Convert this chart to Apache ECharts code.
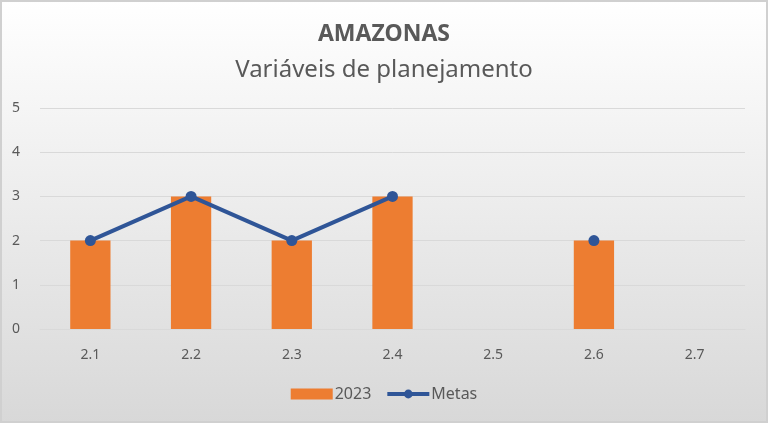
<!DOCTYPE html>
<html><head><meta charset="utf-8">
<script src="https://cdn.jsdelivr.net/npm/echarts@6/dist/echarts.min.js"></script>
<style>html,body{margin:0;padding:0;}#c{width:768px;height:423px;}</style>
</head><body><div id="c"></div>
<script>
const categories = ['2.1','2.2','2.3','2.4','2.5','2.6','2.7'];
const values2023 = [2,3,2,3,null,2,null];
const metas = [2,3,2,3,null,2,null];
const yTicks = [0,1,2,3,4,5];

const chart = echarts.init(document.getElementById('c'));
const font = '"Noto Sans", sans-serif';
chart.setOption({
  backgroundColor: {type:'linear',x:0,y:0,x2:0,y2:1,colorStops:[{offset:0,color:'#ffffff'},{offset:1,color:'#d8d8d8'}]},
  animation:false,
  graphic:[{type:'rect',shape:{x:1,y:1,width:766,height:421},style:{fill:'none',stroke:'#d0d0d0',lineWidth:2},silent:true}],
  title:[
    {text:'AMAZONAS',left:'center',top:18,textStyle:{fontFamily:font,fontSize:23,fontWeight:'bold',color:'#595959'}},
    {text:'Variáveis de planejamento',left:'center',top:53,textStyle:{fontFamily:font,fontSize:24,fontWeight:'normal',color:'#595959'}}
  ],
  legend:{bottom:16,left:'center',itemGap:14,textStyle:{fontFamily:font,fontSize:16,color:'#595959',padding:[0,0,0,-3]},
    data:[{name:'2023',icon:'rect',itemWidth:37,itemHeight:10},{name:'Metas',lineStyle:{width:4}}],itemWidth:42,itemHeight:11},
  grid:{left:40,right:23,top:108,bottom:94},
  xAxis:{type:'category',data:categories,axisLine:{show:true,lineStyle:{color:'#d9d9d9'}},axisTick:{show:false},
    axisLabel:{fontFamily:font,fontSize:14,color:'#595959',margin:19}},
  yAxis:{type:'value',min:0,max:5,interval:1,axisLine:{show:false},axisTick:{show:false},
    axisLabel:{fontFamily:font,fontSize:14,color:'#595959',margin:20,formatter:v=>yTicks.includes(v)?String(v):''},
    splitLine:{lineStyle:{color:'#d9d9d9',width:1}}},
  series:[
    {name:'2023',type:'bar',data:values2023,barWidth:'40%',itemStyle:{color:'#ED7D31'}},
    {name:'Metas',type:'line',data:metas,symbol:'circle',symbolSize:11,showAllSymbol:true,connectNulls:false,
      lineStyle:{color:'#2F5597',width:4},itemStyle:{color:'#2F5597'}}
  ]
});
</script></body></html>
